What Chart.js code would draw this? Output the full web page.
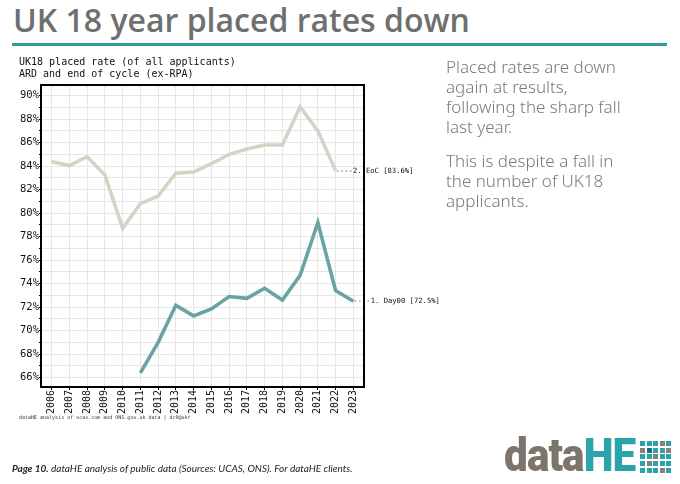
<!DOCTYPE html>
<html>
<head>
<meta charset="utf-8">
<script src="https://cdn.jsdelivr.net/npm/chart.js@4.4.0/dist/chart.umd.min.js"></script>
<style>
  body { margin: 0; width: 680px; height: 484px; background: #fff; position: relative; overflow: hidden; font-family: "Open Sans", sans-serif; }
  #chart { position: absolute; left: 0; top: 0; }
  .title { position: absolute; left: 13px; top: -2px; font-size: 32px; font-weight: 600; color: #6f6f6f; white-space: nowrap; }
  .rule { position: absolute; left: 12px; top: 43px; width: 655px; height: 3px; background: #2e9a9e; }
  .ctitle { position: absolute; left: 19px; top: 56px; font-family: "DejaVu Sans Mono", monospace; font-size: 10px; line-height: 12px; color: #111; }
  .side { position: absolute; left: 446px; top: 57px; width: 186px; font-family: "Noto Sans", sans-serif; font-weight: 300; font-size: 17px; line-height: 20px; color: #7a7a7a; }
  .side p { margin: 0 0 14px 0; }
  .foot { position: absolute; left: 12px; top: 462px; font-family: Lato, sans-serif; font-style: italic; font-size: 10px; color: #222; white-space: nowrap; }
  .logo { position: absolute; left: 504px; top: 427px; font-family: Roboto, sans-serif; font-weight: 900; font-size: 47px; letter-spacing: -1px; white-space: nowrap; transform: scaleX(0.9); transform-origin: left top; }
  .logo .d { color: #7c756b; }
  .logo .h { color: #2aa3ab; }
  .grid { position: absolute; left: 640px; top: 441px; width: 32px; height: 32px; display: grid; grid-template-columns: repeat(5, 5px); grid-gap: 1.5px; }
  .grid div { width: 5px; height: 5px; }
</style>
</head>
<body>
<div class="title">UK 18 year placed rates down</div>
<div class="rule"></div>
<canvas id="chart" width="680" height="484"></canvas>
<div class="ctitle">UK18 placed rate (of all applicants)<br>ARD and end of cycle (ex-RPA)</div>
<div class="side">
  <p>Placed rates are down again at results, following the sharp fall last year.</p>
  <p>This is despite a fall in the number of UK18 applicants.</p>
</div>
<div class="foot"><b>Page 10.</b> dataHE analysis of public data (Sources: UCAS, ONS). For dataHE clients.</div>
<div class="logo"><span class="d">data</span><span class="h">HE</span></div>
<div class="grid" id="grid"></div>
<script>
// years on the x axis
const years = [2006, 2007, 2008, 2009, 2010, 2011, 2012, 2013, 2014, 2015,
               2016, 2017, 2018, 2019, 2020, 2021, 2022, 2023];
// end of cycle placed rate (%)
const eocRate = [84.4, 84.05, 84.8, 83.25, 78.7, 80.8, 81.45, 83.4, 83.5, 84.2,
                 85.0, 85.45, 85.8, 85.8, 89.05, 87.0, 83.6, null];
// results day (Day00) placed rate (%)
const day00Rate = [null, null, null, null, null, 66.4, 69.0, 72.15, 71.25, 71.85,
                   72.9, 72.75, 73.6, 72.6, 74.7, 79.2, 73.4, 72.5];
const seriesNames = ["1. Day00", "2. EoC"];
const yGrid = [66, 67, 68, 69, 70, 71, 72, 73, 74, 75, 76, 77, 78,
               79, 80, 81, 82, 83, 84, 85, 86, 87, 88, 89, 90];

const mono = "'DejaVu Sans Mono', monospace";

// logo squares
const logoCols = ["#2aa3ab", "#2aa3ab", "#2aa3ab", "#8a7f76", "#2aa3ab",
                  "#8a7f76", "#1b6f78", "#2aa3ab", "#2aa3ab", "#8a7f76",
                  "#2aa3ab", "#2aa3ab", "#8a7f76", "#2aa3ab", "#2aa3ab",
                  "#2aa3ab", "#8a7f76", "#2aa3ab", "#2aa3ab", "#2aa3ab",
                  "#2aa3ab", "#2aa3ab", "#2aa3ab", "#8a7f76", "#2aa3ab"];
const grid = document.getElementById("grid");
logoCols.forEach(c => {
  const d = document.createElement("div");
  d.style.background = c;
  grid.appendChild(d);
});

// box round the plot, end labels and source line
const extras = {
  id: "extras",
  afterDraw(chart) {
    const ctx = chart.ctx;
    const a = chart.chartArea;
    ctx.save();
    ctx.strokeStyle = "#000";
    ctx.lineWidth = 2;
    ctx.strokeRect(a.left, a.top, a.right - a.left, a.bottom - a.top);

    ctx.fillStyle = "#111";
    ctx.font = "7.2px " + mono;
    ctx.textBaseline = "middle";
    chart.data.datasets.forEach(ds => {
      let i = ds.data.length - 1;
      while (ds.data[i].y == null) i--;
      const x = chart.scales.x.getPixelForValue(ds.data[i].x);
      const y = chart.scales.y.getPixelForValue(ds.data[i].y);
      ctx.fillText("----" + ds.label + " [" + ds.data[i].y.toFixed(1) + "%]", x, y);
    });

    ctx.font = "5px " + mono;
    ctx.fillStyle = "#333";
    ctx.fillText("dataHE analysis of ucas.com and ONS.gov.uk data | dc0@ukr", 19, 418);
    ctx.restore();
  }
};

function points(vals) {
  return years.map((yr, i) => ({ x: yr, y: vals[i] }));
}

new Chart(document.getElementById("chart"), {
  type: "line",
  data: {
    datasets: [
      {
        label: seriesNames[1],
        data: points(eocRate),
        borderColor: "#d6d2c5",
        borderWidth: 3.6,
        pointRadius: 0,
        spanGaps: false,
      },
      {
        label: seriesNames[0],
        data: points(day00Rate),
        borderColor: "#6ba3a5",
        borderWidth: 3.6,
        pointRadius: 0,
        spanGaps: false,
      },
    ],
  },
  options: {
    responsive: false,
    animation: false,
    layout: { padding: { left: 0, top: 85, right: 316, bottom: 62 } },
    plugins: { legend: { display: false }, tooltip: { enabled: false } },
    scales: {
      x: {
        type: "linear",
        min: 2005.4,
        max: 2023.6,
        afterBuildTicks: s => { s.ticks = years.map(v => ({ value: v })); },
        afterFit: s => { s.height = 35; },
        grid: { color: "#e6e6e6", tickColor: "#000", tickLength: 3 },
        border: { display: false },
        ticks: {
          autoSkip: false,
          minRotation: 90,
          maxRotation: 90,
          padding: 0,
          color: "#111",
          font: { family: mono, size: 10 },
          callback: v => String(v),
        },
      },
      y: {
        min: 65.2,
        max: 90.9,
        afterBuildTicks: s => { s.ticks = yGrid.map(v => ({ value: v })); },
        afterFit: s => { s.width = 41; },
        grid: { color: "#e6e6e6", tickColor: "#000", tickLength: 2 },
        border: { display: false },
        ticks: {
          autoSkip: false,
          padding: 0,
          color: "#111",
          font: { family: mono, size: 10.5 },
          callback: v => (v % 2 === 0 ? v + "%" : ""),
        },
      },
    },
  },
  plugins: [extras],
});
</script>
</body>
</html>
